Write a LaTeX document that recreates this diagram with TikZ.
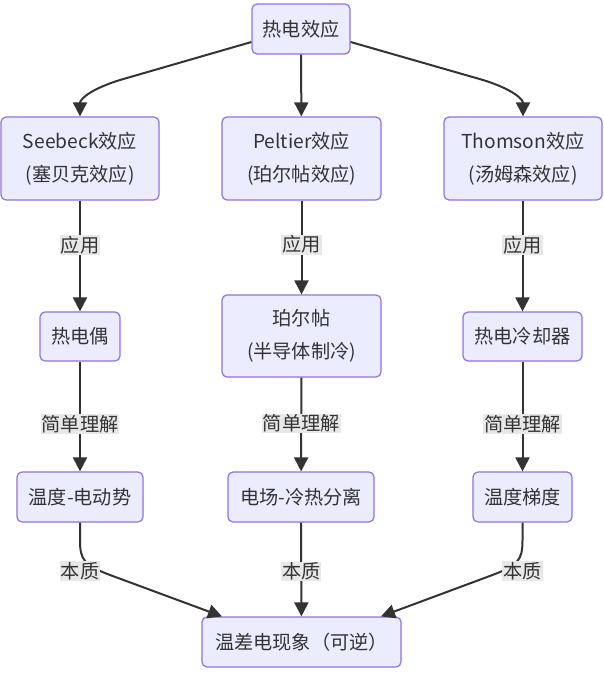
\documentclass[tikz,border=0pt]{standalone}
\usepackage{fontspec}
\setmainfont{Noto Sans CJK SC}
\usetikzlibrary{arrows.meta}
\definecolor{nodefill}{HTML}{ECECFF}
\definecolor{nodestroke}{HTML}{9370DB}
\definecolor{edgecol}{HTML}{333333}
\definecolor{lblfill}{HTML}{E8E8E8}
\begin{document}
\begin{tikzpicture}[x=1pt,y=-1pt,
  box/.style={draw=nodestroke,fill=nodefill,rounded corners=5pt,line width=1.2pt,
    text=edgecol,align=center,inner sep=0pt,font=\fontsize{19.2}{33}\selectfont},
  edge/.style={draw=edgecol,line width=2pt,-{Triangle[length=14pt,width=14pt]}},
  lbl/.style={fill=lblfill,text=edgecol,inner sep=1pt,font=\fontsize{19.2}{22}\selectfont}]
\useasboundingbox (0,0) rectangle (603,674);
% nodes
\node[box,minimum width=98pt,minimum height=50pt] (top) at (301,29) {热电效应};
\node[box,minimum width=158pt,minimum height=83pt] (see) at (80,158.5) {Seebeck效应\\(塞贝克效应)};
\node[box,minimum width=159pt,minimum height=83pt] (pel) at (301.5,158.5) {Peltier效应\\(珀尔帖效应)};
\node[box,minimum width=158pt,minimum height=83pt] (tho) at (523,158.5) {Thomson效应\\(汤姆森效应)};
\node[box,minimum width=80pt,minimum height=49pt] (tc) at (80,336.5) {热电偶};
\node[box,minimum width=159pt,minimum height=82pt] (pe2) at (301.5,336) {珀尔帖\\(半导体制冷)};
\node[box,minimum width=119pt,minimum height=49pt] (co) at (522.5,336.5) {热电冷却器};
\node[box,minimum width=126pt,minimum height=50pt] (emf) at (80,497) {温度-电动势};
\node[box,minimum width=146pt,minimum height=50pt] (fld) at (301,497) {电场-冷热分离};
\node[box,minimum width=99pt,minimum height=50pt] (grd) at (522.5,497) {温度梯度};
\node[box,minimum width=199pt,minimum height=50pt] (bot) at (301.5,642) {温差电现象（可逆）};
% top edges
\coordinate (tl) at ([yshift=-13pt]top.west);
\coordinate (tr) at ([yshift=-13pt]top.east);
\draw[edge] (tl) -- (120,80) .. controls (88,90) and (80,100) .. (see.north);
\draw[edge] (top) -- (pel);
\draw[edge] (tr) -- (483,80) .. controls (515,90) and (523,100) .. (tho.north);
% second row
\draw[edge] (see) -- node[lbl,pos=0.4] (l1) {应用} (tc);
\draw[edge] (pel) -- node[lbl,pos=0.47] (l2) {应用} (pe2);
\draw[edge] (tho.south -| co.north) -- node[lbl,pos=0.4] (l3) {应用} (co.north);
% third row
\draw[edge] (tc) -- node[lbl,pos=0.57] (l4) {简单理解} (emf);
\draw[edge] (pe2) -- node[lbl,pos=0.49] (l5) {简单理解} (fld);
\draw[edge] (co) -- node[lbl,pos=0.57] (l6) {简单理解} (grd);
% bottom edges
\coordinate (bl) at ([xshift=-79.5pt]bot.north);
\coordinate (br) at ([xshift=79.5pt]bot.north);
\draw[edge] (emf.south) -- (80,540) .. controls (80,560) and (84,565) .. (110,575) -- (bl);
\draw[edge] (fld) -- node[lbl,pos=0.52] (l8) {本质} (bot);
\draw[edge] (grd.south) -- (522.5,540) .. controls (522.5,560) and (518.5,565) .. (492.5,575) -- (br);
\node[lbl] (l7) at (80,571) {本质};
\node[lbl] (l9) at (522.5,571) {本质};
\end{tikzpicture}
\end{document}
